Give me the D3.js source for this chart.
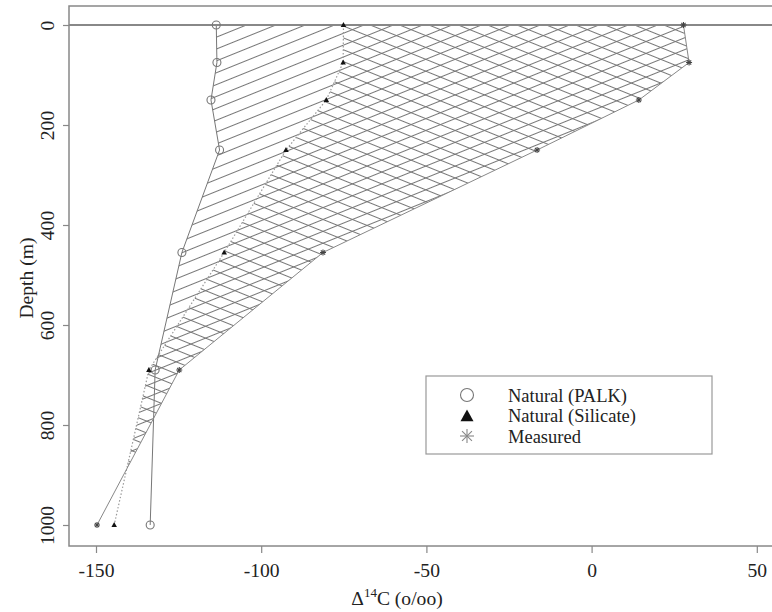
<!DOCTYPE html>
<html>
<head>
<meta charset="utf-8">
<script src="https://cdn.jsdelivr.net/npm/d3@7"></script>
<style>
  html, body { margin: 0; padding: 0; background: #fff; }
  svg { display: block; }
  text { font-family: "Liberation Serif", "Times New Roman", Times, serif; fill: #222; }
</style>
</head>
<body>
<svg id="chart" width="772" height="612"></svg>
<script>
// ---- data ----
const depths = [0, 75, 150, 250, 455, 690, 1000];
const palk = [-113.6, -113.4, -115.2, -112.6, -124.0, -132.1, -133.6];
const silicate = [-75.1, -75.2, -80.3, -92.5, -111.2, -134.0, -144.5];
const measured = [27.8, 29.5, 14.3, -16.5, -81.3, -124.8, -149.7];
const xTicks = [-150, -100, -50, 0, 50];
const yTicks = [0, 200, 400, 600, 800, 1000];
const legendLabels = ["Natural (PALK)", "Natural (Silicate)", "Measured"];

const svg = d3.select("#chart");
const W = 772, H = 612;
const box = { left: 69, top: 6, bottom: 546, right: 783 };
const FONT = "'Liberation Serif', 'Times New Roman', Times, serif";
const FS = 19.6;

const x = d3.scaleLinear().domain([-150, 50]).range([96, 756.8]);
const y = d3.scaleLinear().domain([0, 1000]).range([25, 525]);

const hatchCol = "#767676";
const spacing = 11;

// hatch patterns
const defs = svg.append("defs");
function hatch(id, angle) {
  const p = defs.append("pattern")
    .attr("id", id)
    .attr("patternUnits", "userSpaceOnUse")
    .attr("width", 60).attr("height", spacing)
    .attr("patternTransform", `rotate(${angle})`);
  p.append("line").attr("x1", 0).attr("x2", 60)
    .attr("y1", spacing / 2).attr("y2", spacing / 2)
    .attr("stroke", hatchCol).attr("stroke-width", 1);
}
hatch("hUp", -22);
hatch("hDown", 22);

const pts = (arr) => arr.map((v, i) => [x(v), y(depths[i])]);
const line = d3.line();

// segment intersection helper (geometry only)
function intersect(p1, p2, p3, p4) {
  const d = (p1[0] - p2[0]) * (p3[1] - p4[1]) - (p1[1] - p2[1]) * (p3[0] - p4[0]);
  if (Math.abs(d) < 1e-9) return null;
  const t = ((p1[0] - p3[0]) * (p3[1] - p4[1]) - (p1[1] - p3[1]) * (p3[0] - p4[0])) / d;
  const u = -((p1[0] - p2[0]) * (p1[1] - p3[1]) - (p1[1] - p2[1]) * (p1[0] - p3[0])) / d;
  if (t < 0 || t > 1 || u < 0 || u > 1) return null;
  return [p1[0] + t * (p2[0] - p1[0]), p1[1] + t * (p2[1] - p1[1])];
}

const pP = pts(palk), pS = pts(silicate), pM = pts(measured);
const n = depths.length;

// polygon A: PALK to Silicate, down to the 690 m level
const polyA = pP.slice(0, n - 1).concat(pS.slice(0, n - 1).reverse());
// polygon B: Silicate to Measured, closed where the two profiles cross
let polyB;
const cross = intersect(pS[n - 2], pS[n - 1], pM[n - 2], pM[n - 1]);
if (cross) {
  polyB = pS.slice(0, n - 1).concat([cross]).concat(pM.slice(0, n - 1).reverse());
} else {
  polyB = pS.concat(pM.slice().reverse());
}

svg.append("path").attr("d", line(polyA) + "Z").attr("fill", "url(#hUp)").attr("stroke", "none");
svg.append("path").attr("d", line(polyB) + "Z").attr("fill", "url(#hUp)").attr("stroke", "none");
svg.append("path").attr("d", line(polyB) + "Z").attr("fill", "url(#hDown)").attr("stroke", "none");

// series lines
svg.append("path").attr("d", line(pP)).attr("fill", "none")
  .attr("stroke", "#777").attr("stroke-width", 1);
svg.append("path").attr("d", line(pS)).attr("fill", "none")
  .attr("stroke", "#999").attr("stroke-width", 1.2).attr("stroke-dasharray", "1.5,2");
svg.append("path").attr("d", line(pM)).attr("fill", "none")
  .attr("stroke", "#888").attr("stroke-width", 1);

// zero line
svg.append("line").attr("x1", box.left).attr("x2", W)
  .attr("y1", y(0)).attr("y2", y(0))
  .attr("stroke", "#888").attr("stroke-width", 1.8);

// box
svg.append("rect").attr("x", box.left).attr("y", box.top)
  .attr("width", box.right - box.left).attr("height", box.bottom - box.top)
  .attr("fill", "none").attr("stroke", "#888").attr("stroke-width", 1.5);

// markers
function circleMark(g, cx, cy, r) {
  g.append("circle").attr("cx", cx).attr("cy", cy).attr("r", r)
    .attr("fill", "none").attr("stroke", "#777").attr("stroke-width", 1.1);
}
function triMark(g, cx, cy, s) {
  const h = s * 0.9;
  g.append("path")
    .attr("d", `M${cx},${cy - h * 0.6}L${cx + s / 2},${cy + h * 0.4}L${cx - s / 2},${cy + h * 0.4}Z`)
    .attr("fill", "#111");
}
function starMark(g, cx, cy, r, w, col) {
  for (let k = 0; k < 4; k++) {
    const a = k * Math.PI / 4;
    g.append("line")
      .attr("x1", cx - r * Math.cos(a)).attr("y1", cy - r * Math.sin(a))
      .attr("x2", cx + r * Math.cos(a)).attr("y2", cy + r * Math.sin(a))
      .attr("stroke", col).attr("stroke-width", w);
  }
}
const mk = svg.append("g");
palk.forEach((v, i) => circleMark(mk, x(v), y(depths[i]), 4));
silicate.forEach((v, i) => triMark(mk, x(v), y(depths[i]), 5.5));
measured.forEach((v, i) => starMark(mk, x(v), y(depths[i]), 3, 1.1, "#444"));

// axes
const xAxis = d3.axisBottom(x).tickValues(xTicks).tickSize(7).tickSizeOuter(0).tickPadding(10)
  .tickFormat(d => String(d));
const gx = svg.append("g").attr("transform", `translate(0,${box.bottom})`).call(xAxis);
gx.select(".domain").remove();
gx.selectAll("line").attr("stroke", "#888").attr("stroke-width", 1.2);
gx.selectAll("text").attr("font-size", FS).attr("fill", "#222")
  .attr("font-family", FONT).style("font-family", FONT);

const yAxis = d3.axisLeft(y).tickValues(yTicks).tickSize(6).tickSizeOuter(0)
  .tickFormat(d => String(d));
const gy = svg.append("g").attr("transform", `translate(${box.left},0)`).call(yAxis);
gy.select(".domain").remove();
gy.selectAll("line").attr("stroke", "#888").attr("stroke-width", 1.2);
gy.selectAll("text").attr("font-size", FS).attr("fill", "#222")
  .attr("font-family", FONT).style("font-family", FONT)
  .attr("x", null).attr("dy", null).attr("text-anchor", "middle")
  .attr("transform", "translate(-15,0) rotate(-90)");

// axis titles
const xt = svg.append("text").attr("x", 397).attr("y", 605)
  .attr("text-anchor", "middle").attr("font-size", FS).attr("font-family", FONT);
xt.append("tspan").text("Δ");
xt.append("tspan").attr("font-size", 13).attr("dy", -8).text("14");
xt.append("tspan").attr("dy", 8).text("C (o/oo)");

svg.append("text").attr("transform", "translate(33,278) rotate(-90)")
  .attr("text-anchor", "middle").attr("font-size", FS).attr("font-family", FONT)
  .text("Depth (m)");

// legend
const lg = svg.append("g");
lg.append("rect").attr("x", 426).attr("y", 376).attr("width", 286).attr("height", 78)
  .attr("fill", "#fff").attr("stroke", "#999").attr("stroke-width", 1.2);
const rowsY = [395, 415.5, 436];
circleMark(lg, 467, rowsY[0], 6.5);
triMark(lg, 467, rowsY[1] + 1, 13);
starMark(lg, 467, rowsY[2], 7, 1.1, "#888");
legendLabels.forEach((t, i) => {
  lg.append("text").attr("x", 508).attr("y", rowsY[i] + 6.5)
    .attr("font-size", 18.5).attr("font-family", FONT).text(t);
});
</script>
</body>
</html>
